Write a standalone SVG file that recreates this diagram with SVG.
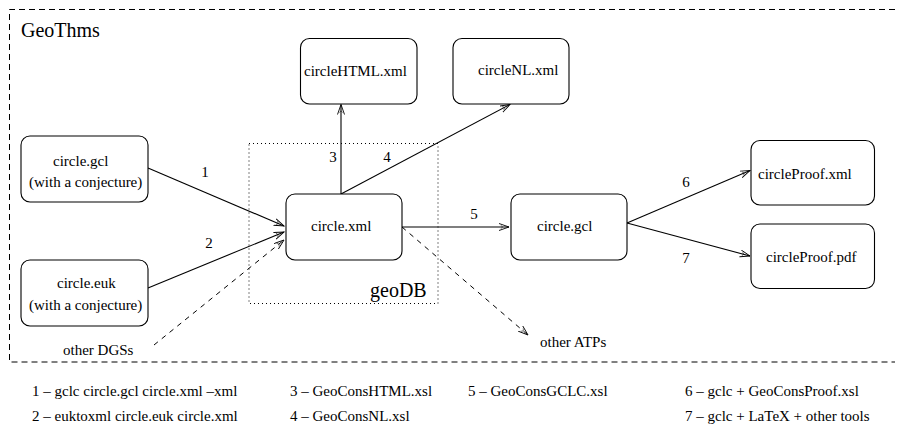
<svg xmlns="http://www.w3.org/2000/svg" width="901" height="425" viewBox="0 0 901 425">
<style>
text{font-family:"Liberation Serif","Times New Roman",Times,"DejaVu Serif",serif;font-size:15px;fill:#000}
.big{font-size:20px}
.box{fill:#fff;stroke:#000;stroke-width:1.1}
.ln{stroke:#000;stroke-width:1.1;fill:none}
.dash{stroke:#000;stroke-width:1;fill:none;stroke-dasharray:5,5}
.m{text-anchor:middle}
</style>
<defs>
<marker id="ah" markerUnits="userSpaceOnUse" markerWidth="12" markerHeight="10" refX="10" refY="4" orient="auto">
<path d="M0,0.5 L10,4 L0,7.5" fill="none" stroke="#000" stroke-width="0.9"/>
<path d="M2,2.2 Q5,4 2,5.8" fill="none" stroke="#000" stroke-width="0.5"/>
</marker>
</defs>
<g id="frame">
<path d="M895,9.5 H9.5 V362 H895" fill="none" stroke="#000" stroke-width="1" stroke-dasharray="6,4"/>
<text class="big" x="21" y="37">GeoThms</text>
</g>
<g id="geoDB">
<rect x="249" y="143.5" width="189" height="160" fill="none" stroke="#000" stroke-width="1" stroke-dasharray="1,3"/>
<text class="big" x="370" y="297">geoDB</text>
</g>
<g id="connectors">
<line class="ln" x1="148" y1="168" x2="284" y2="226" marker-end="url(#ah)"/>
<line class="ln" x1="148" y1="288" x2="284" y2="232" marker-end="url(#ah)"/>
<line class="dash" x1="154" y1="345" x2="284" y2="240" marker-end="url(#ah)"/>
<line class="ln" x1="341" y1="194" x2="341" y2="104.5" marker-end="url(#ah)"/>
<line class="ln" x1="341" y1="194" x2="510" y2="104.5" marker-end="url(#ah)"/>
<line class="ln" x1="402" y1="227" x2="509" y2="227" marker-end="url(#ah)"/>
<line class="dash" x1="402" y1="227" x2="528" y2="335" marker-end="url(#ah)"/>
<line class="ln" x1="627" y1="223" x2="750" y2="170.5" marker-end="url(#ah)"/>
<line class="ln" x1="627" y1="223" x2="750" y2="256" marker-end="url(#ah)"/>
<text class="m" x="205" y="177">1</text>
<text class="m" x="209" y="248">2</text>
<text class="m" x="333" y="162">3</text>
<text class="m" x="387" y="162">4</text>
<text class="m" x="474" y="219">5</text>
<text class="m" x="686" y="187">6</text>
<text class="m" x="686" y="263">7</text>
<text x="63" y="355">other DGSs</text>
<text x="540" y="347">other ATPs</text>
</g>
<g id="n-circleHTML">
<rect class="box" x="300.5" y="38.5" width="116.5" height="65.5" rx="9"/>
<text x="304" y="76">circleHTML.xml</text>
</g>
<g id="n-circleNL">
<rect class="box" x="453" y="38.5" width="116" height="65.5" rx="9"/>
<text x="478" y="75">circleNL.xml</text>
</g>
<g id="n-circle-gcl-in">
<rect class="box" x="21" y="136" width="127" height="66" rx="9"/>
<text x="53" y="166">circle.gcl</text>
<text x="29" y="187">(with a conjecture)</text>
</g>
<g id="n-circle-euk">
<rect class="box" x="21" y="260" width="127" height="66" rx="9"/>
<text x="57" y="288">circle.euk</text>
<text x="29" y="310">(with a conjecture)</text>
</g>
<g id="n-circle-xml">
<rect class="box" x="286" y="194" width="116" height="66" rx="9"/>
<text x="311" y="231">circle.xml</text>
</g>
<g id="n-circle-gcl">
<rect class="box" x="511" y="194" width="116" height="66" rx="9"/>
<text x="537" y="231">circle.gcl</text>
</g>
<g id="n-circleProof-xml">
<rect class="box" x="751" y="140.5" width="123.5" height="64.5" rx="9"/>
<text x="758" y="179">circleProof.xml</text>
</g>
<g id="n-circleProof-pdf">
<rect class="box" x="751" y="224" width="123.5" height="64.5" rx="9"/>
<text x="766" y="262">circleProof.pdf</text>
</g>
<g id="legend">
<text x="32" y="396">1 – gclc circle.gcl circle.xml –xml</text>
<text x="32" y="421">2 – euktoxml circle.euk circle.xml</text>
<text x="290" y="396">3 – GeoConsHTML.xsl</text>
<text x="290" y="421">4 – GeoConsNL.xsl</text>
<text x="468" y="396">5 – GeoConsGCLC.xsl</text>
<text x="685" y="396">6 – gclc + GeoConsProof.xsl</text>
<text x="685" y="421">7 – gclc + LaTeX + other tools</text>
</g>
</svg>
